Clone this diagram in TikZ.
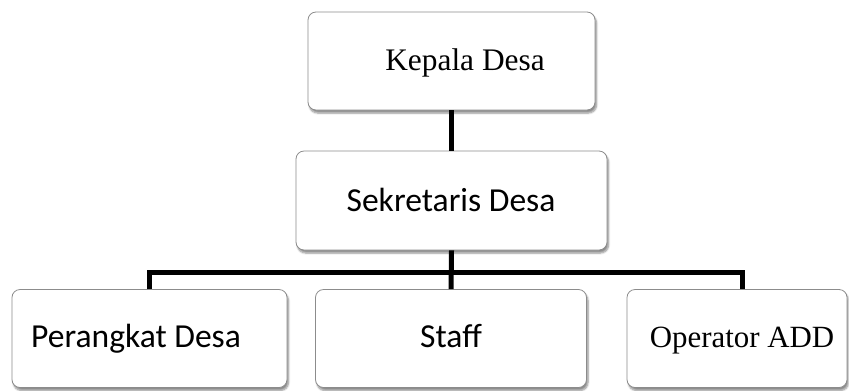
\documentclass[tikz,border=0pt]{standalone}
\usepackage{fontspec}
\setmainfont{Liberation Serif}
\newfontfamily\calibrifont{Carlito}
\usetikzlibrary{shadows.blur}
\tikzset{
  orgbox/.style={draw=black!45, line width=0.8bp, fill=white, rounded corners=8bp,
    blur shadow={shadow xshift=1.5bp, shadow yshift=-3bp, shadow blur steps=6, shadow opacity=45},
    inner sep=0pt},
  link/.style={line width=5bp, draw=black},
  lbl/.style={inner sep=0pt, text=black, anchor=base},
  serifl/.style={lbl, font=\fontsize{31.5}{36}\selectfont},
  sansl/.style={lbl, font=\calibrifont\fontsize{33.7}{38}\selectfont},
}
\begin{document}
\begin{tikzpicture}[x=1bp,y=-1bp]
\useasboundingbox (0,0) rectangle (849,390);
% boxes
\node[orgbox, minimum width=287bp, minimum height=98bp] (kd) at (451.5,61) {};
\node[orgbox, minimum width=311bp, minimum height=99bp] (sd) at (451.5,200.5) {};
\node[orgbox, minimum width=275bp, minimum height=98bp] (pd) at (149.5,338.5) {};
\node[orgbox, minimum width=271bp, minimum height=98bp] (st) at (451,338.5) {};
\node[orgbox, minimum width=220bp, minimum height=98bp] (op) at (737,338.5) {};
% texts
\node[serifl] (kdt) at (465,70.7) {Kepala Desa};
\node[sansl] (sdt) at (451,211.7) {Sekretaris Desa};
\node[sansl] (pdt) at (136,347.5) {Perangkat Desa};
\node[sansl] (stt) at (451,347.5) {Staff};
\node[serifl, font=\fontsize{31}{36}\selectfont] (opt) at (742,347.5) {Operator ADD};
% connectors
\coordinate (bus) at (451,272);
\coordinate (opin) at ([xshift=5bp]op.north);
\draw[link] (kd.south) -- (sd.north);
\draw[link] (sd.south) -- (st.north);
\draw[link] (pd.north) |- (bus) -| (opin);
\end{tikzpicture}
\end{document}
